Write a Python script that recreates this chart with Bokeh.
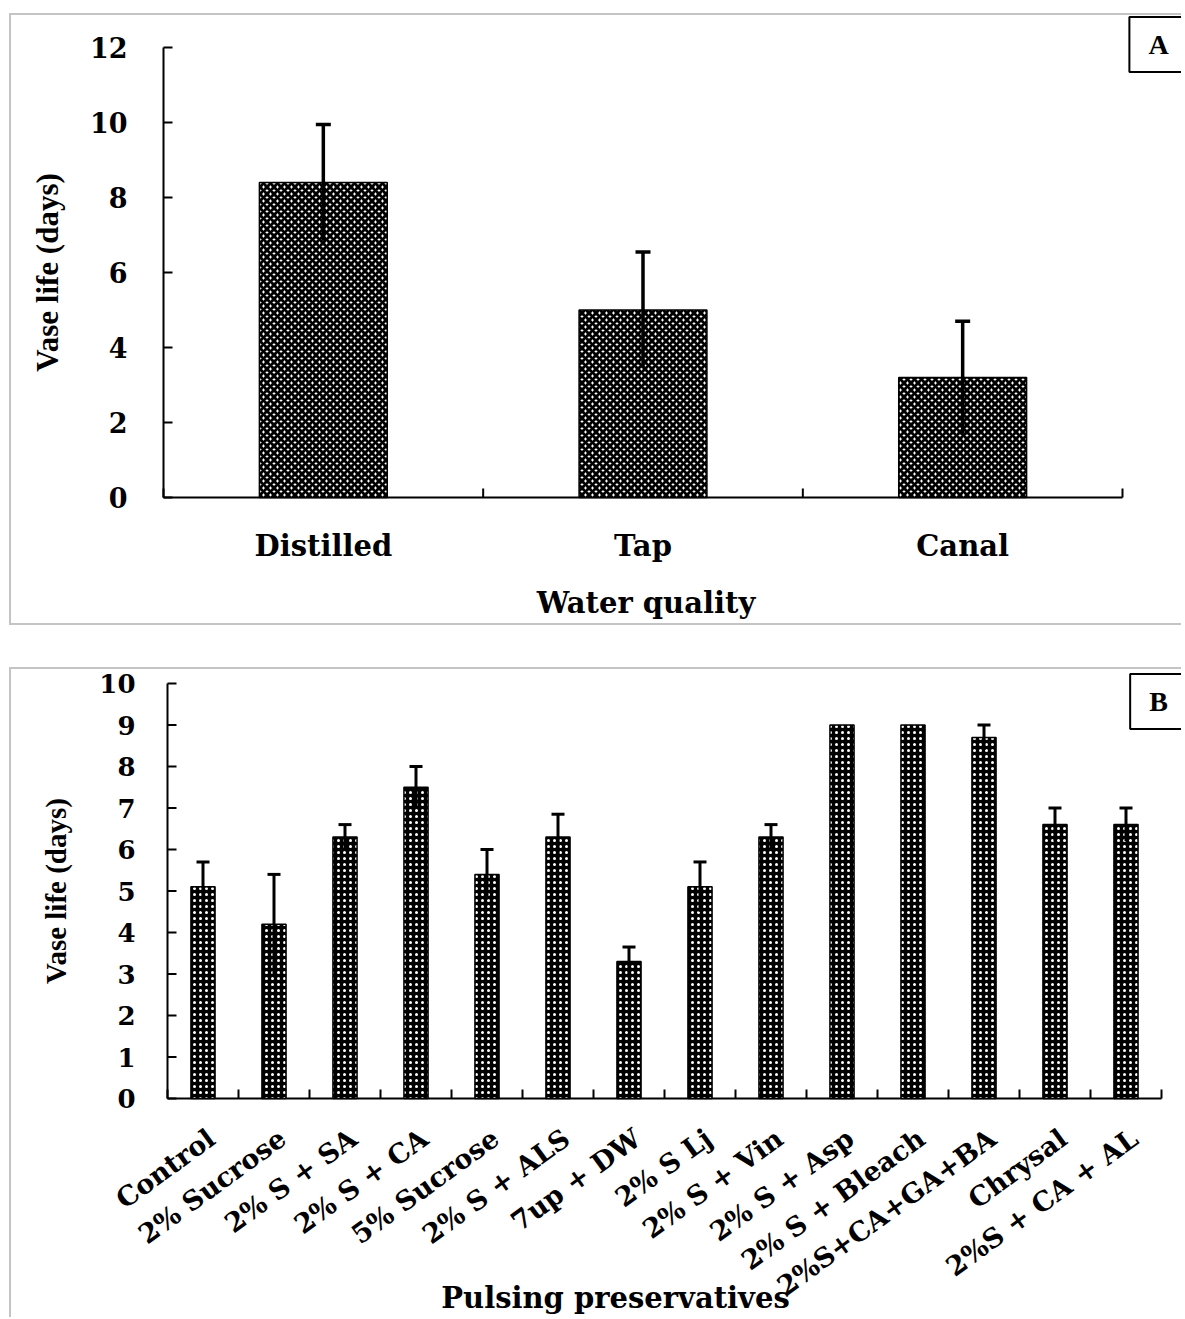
import math
from bokeh.plotting import figure
from bokeh.models import ColumnDataSource, Whisker, TeeHead, Label
from bokeh.core.properties import value
from bokeh.embed import file_html
from bokeh.resources import INLINE

# ---------------- data ----------------
# Panel A: water quality
water_types = ["Distilled", "Tap", "Canal"]
water_life = [8.4, 5.0, 3.2]
water_err = [1.55, 1.55, 1.5]
water_yticks = [0, 2, 4, 6, 8, 10, 12]

# Panel B: pulsing preservatives
preservatives = ["Control", "2% Sucrose", "2% S + SA", "2% S + CA", "5% Sucrose",
                 "2% S + ALS", "7up + DW", "2% S Lj", "2% S + Vin", "2% S + Asp",
                 "2% S + Bleach", "2%S+CA+GA+BA", "Chrysal", "2%S + CA + AL"]
pulse_life = [5.1, 4.2, 6.3, 7.5, 5.4, 6.3, 3.3, 5.1, 6.3, 9.0, 9.0, 8.7, 6.6, 6.6]
pulse_err = [0.6, 1.2, 0.3, 0.5, 0.6, 0.55, 0.35, 0.6, 0.3, 0.0, 0.0, 0.3, 0.4, 0.4]
pulse_yticks = [0, 1, 2, 3, 4, 5, 6, 7, 8, 9, 10]

SERIF = "DejaVu Serif"
TIMES = "Liberation Serif"
BOX = "2px solid #c4c4c4"
TICK = 9  # inward tick length, px


def make_fig(w, h, ox, oy, px, py):
    """Figure whose frame is the whole canvas; data origin at canvas (ox, oy)."""
    p = figure(width=w, height=h,
               x_range=(-ox / px, (w - ox) / px),
               y_range=(-(h - oy) / py, oy / py),
               output_backend="svg", toolbar_location=None,
               min_border=0, min_border_left=0, min_border_right=0,
               min_border_top=0, min_border_bottom=0)
    p.xaxis.visible = False
    p.yaxis.visible = False
    p.grid.visible = False
    p.outline_line_color = None
    return p


def draw_axes(p, ncat, yticks, px, py, tick_font, label_x):
    ymax = yticks[-1]
    p.segment(x0=[0, 0], y0=[0, 0], x1=[ncat, 0], y1=[0, ymax],
              line_color="black", line_width=2)
    bnd = list(range(ncat + 1))
    p.segment(x0=bnd, y0=[0] * len(bnd), x1=bnd, y1=[TICK / py] * len(bnd),
              line_color="black", line_width=2)
    p.segment(x0=[0] * len(yticks), y0=yticks, x1=[TICK / px] * len(yticks), y1=yticks,
              line_color="black", line_width=2)
    p.text(x=[label_x] * len(yticks), y=yticks, text=[str(t) for t in yticks],
           text_align="right", text_baseline="middle", text_font=value(SERIF),
           text_font_style="bold", text_font_size=tick_font, text_color="black")


def box_label(text, cx, cy):
    return Label(x=cx, y=cy, x_units="canvas", y_units="canvas", text=text,
                 text_align="center", text_baseline="middle",
                 text_font=TIMES, text_font_style="bold", text_font_size="28px",
                 text_color="black", border_line_color="black", border_line_width=2,
                 background_fill_color="white", padding=(19, 12))


# ---------------- Panel A ----------------
nA = len(water_types)
xA = [i + 0.5 for i in range(nA)]
pxA = 959 / nA          # px per category
pyA = 37.5              # px per day
pA = make_fig(1172, 612, 152, 482, pxA, pyA)
draw_axes(pA, nA, water_yticks, pxA, pyA, "27px", -36 / pxA)

pA.vbar(x=xA, top=water_life, width=0.4, fill_color="white",
        hatch_pattern="diagonal_cross", hatch_color="black", hatch_scale=7,
        hatch_weight=3, line_color="black", line_width=1.5)
srcA = ColumnDataSource(dict(x=xA,
                             upper=[v + e for v, e in zip(water_life, water_err)],
                             lower=[v - e for v, e in zip(water_life, water_err)]))
pA.add_layout(Whisker(source=srcA, base="x", upper="upper", lower="lower",
                      line_color="black", line_width=3.5, level="annotation",
                      upper_head=TeeHead(size=15, line_width=3.5, line_color="black"),
                      lower_head=None))
pA.text(x=xA, y=[-48 / pyA] * nA, text=water_types, text_align="center",
        text_baseline="alphabetic", text_font=value(SERIF), text_font_style="bold",
        text_font_size="29px", text_color="black")
pA.text(x=[nA / 2 + 3 / pxA], y=[-105 / pyA], text=["Water quality"], text_align="center",
        text_baseline="alphabetic", text_font=value(SERIF), text_font_style="bold",
        text_font_size="29px", text_color="black")
pA.text(x=[-116 / pxA], y=[water_yticks[-1] / 2], text=["Vase life (days)"],
        angle=math.pi / 2, text_align="center", text_baseline="middle",
        text_font=value(TIMES), text_font_style="bold", text_font_size="31px",
        text_color="black")
pA.add_layout(box_label("A", 1145, 27))
pA.styles = {"border-top": BOX, "border-left": BOX, "border-bottom": BOX}
pA.margin = (13, 0, 0, 9)

# ---------------- Panel B ----------------
nB = len(preservatives)
xB = [i + 0.5 for i in range(nB)]
pxB = 994 / nB          # px per category
pyB = 41.5              # px per day
pB = make_fig(1172, 650, 156, 429, pxB, pyB)
draw_axes(pB, nB, pulse_yticks, pxB, pyB, "26px", -32 / pxB)

pB.vbar(x=xB, top=pulse_life, width=0.34, fill_color="black",
        hatch_pattern="dot", hatch_color="white", hatch_scale=6,
        hatch_weight=1.3, line_color="black", line_width=1.5)
idx = [i for i, e in enumerate(pulse_err) if e > 0]
srcB = ColumnDataSource(dict(x=[xB[i] for i in idx],
                             upper=[pulse_life[i] + pulse_err[i] for i in idx],
                             lower=[pulse_life[i] - pulse_err[i] for i in idx]))
pB.add_layout(Whisker(source=srcB, base="x", upper="upper", lower="lower",
                      line_color="black", line_width=3, level="annotation",
                      upper_head=TeeHead(size=13, line_width=3, line_color="black"),
                      lower_head=None))
pB.text(x=[x + 0.12 for x in xB], y=[-0.88] * nB, text=preservatives,
        angle=math.radians(36), text_align="right", text_baseline="middle",
        text_font=value(SERIF), text_font_style="bold", text_font_size="27px",
        text_color="black")
pB.text(x=[(615 - 167) / pxB], y=[-(1297 - 1098) / pyB],
        text=["Pulsing preservatives"], text_align="center", text_baseline="middle",
        text_font=value(SERIF), text_font_style="bold", text_font_size="29px",
        text_color="black")
pB.text(x=[-112 / pxB], y=[pulse_yticks[-1] / 2], text=["Vase life (days)"],
        angle=math.pi / 2, text_align="center", text_baseline="middle",
        text_font=value(TIMES), text_font_style="bold", text_font_size="29px",
        text_color="black")
pB.add_layout(box_label("B", 1145, 30))
pB.styles = {"border-top": BOX, "border-left": BOX}
pB.margin = (42, 0, 0, 9)

open("out.html", "w").write(file_html([pA, pB], INLINE))
